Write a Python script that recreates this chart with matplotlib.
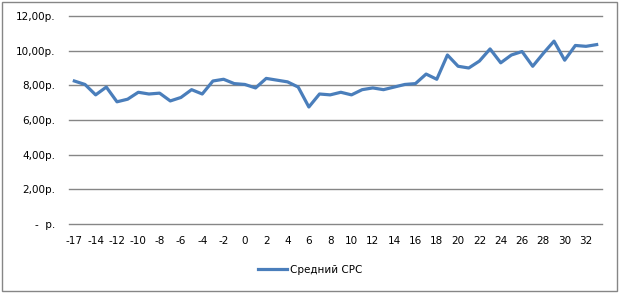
import matplotlib.pyplot as plt
from matplotlib.patches import Rectangle

# categories (day offsets); the second one is hidden between labels
days = [-17, -16] + list(range(-14, 34))
cpc = [8.25, 8.05, 7.45, 7.9, 7.05, 7.2, 7.6, 7.5, 7.55, 7.1,
       7.3, 7.75, 7.5, 8.25, 8.35, 8.1, 8.05, 7.85, 8.4, 8.3,
       8.2, 7.9, 6.75, 7.5, 7.45, 7.6, 7.45, 7.75, 7.85, 7.75,
       7.9, 8.05, 8.1, 8.65, 8.35, 9.75, 9.1, 9.0, 9.4, 10.1,
       9.3, 9.75, 9.95, 9.1, 9.85, 10.55, 9.45, 10.3, 10.25, 10.35]
yticks = [0, 2, 4, 6, 8, 10, 12]
ylabels = ['-  р.', '2,00р.', '4,00р.', '6,00р.', '8,00р.', '10,00р.', '12,00р.']

W, H = 621, 293
fig = plt.figure(figsize=(W / 100, H / 100), dpi=100)
fig.patches.append(Rectangle((2 / W, 2 / H), 615 / W, 289 / H, transform=fig.transFigure,
                             fill=False, edgecolor='#868686', linewidth=1))

# plot area in pixels: x 69..602, y 16..224 (from top)
ax = fig.add_axes([69 / W, (H - 224) / H, (602 - 69) / W, (224 - 16) / H])
idx = list(range(len(days)))
ax.plot(idx, cpc, color='#4A7EBB', linewidth=2.3, label='Средний CPC', solid_joinstyle='round')

ax.set_xlim(-0.5, len(days) - 0.5)
ax.set_ylim(0, 12)
ax.set_yticks(yticks)
ax.set_yticklabels(ylabels)
ax.set_xticks(idx[::2])
ax.set_xticklabels([str(d) for d in days[::2]])
ax.tick_params(length=0, labelsize=7.5, colors='black')
ax.tick_params(axis='x', pad=9)
ax.tick_params(axis='y', pad=10)
ax.grid(axis='y', color='#868686', linewidth=1)
for gl in ax.get_ygridlines():
    gl.set_clip_on(False)
ax.set_axisbelow(True)
for s in ax.spines.values():
    s.set_visible(False)

fig.legend(loc='center', bbox_to_anchor=(310 / W, (H - 270) / H), frameon=False,
           fontsize=7.5, handlelength=2.8, handletextpad=0.3)

fig.savefig('out.png', dpi=100)
